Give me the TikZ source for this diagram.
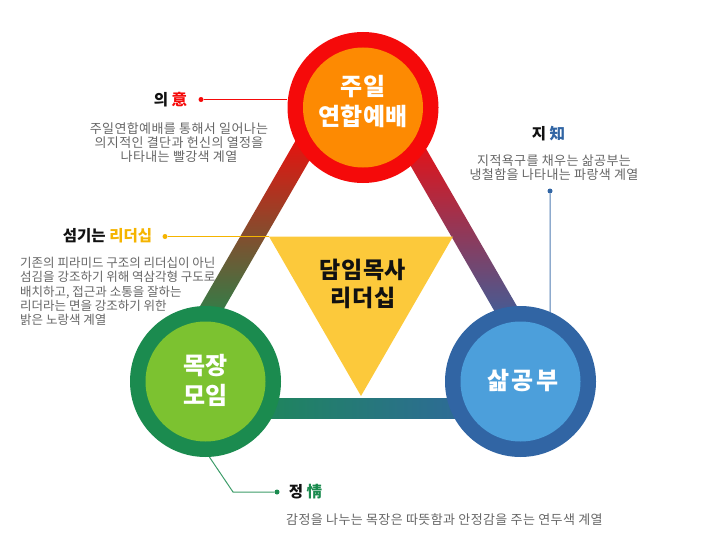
\documentclass[tikz,border=0pt]{standalone}
\usepackage{fontspec}
\setmainfont{Noto Sans CJK KR}
\definecolor{cred}{HTML}{F50A0A}
\definecolor{corange}{HTML}{FD8A02}
\definecolor{cgreen}{HTML}{1B8B4F}
\definecolor{clime}{HTML}{7CC230}
\definecolor{cblue}{HTML}{3165A4}
\definecolor{csky}{HTML}{4C9FDB}
\definecolor{cyellow}{HTML}{FCC93B}
\definecolor{cgold}{HTML}{F5B400}
\definecolor{cgray}{HTML}{666666}
\definecolor{cpurple}{HTML}{8C3468}
\definecolor{cink}{HTML}{111111}
\tikzset{
  ring/.style={circle, minimum size=151pt, inner sep=0pt, draw=none},
  core/.style={circle, minimum size=120pt, inner sep=0pt, draw=none},
  ctext/.style={text=white, font=\bfseries\fontsize{24}{30}\selectfont, align=center, inner sep=0pt},
  lbl/.style={text=cink, font=\bfseries\fontsize{15.5}{18}\selectfont, inner sep=0pt},
  desc/.style={text=cgray, font=\fontsize{13}{14.4}\selectfont\addfontfeatures{LetterSpace=3}, inner sep=0pt},
  descs/.style={text=cgray, font=\fontsize{12.5}{14.3}\selectfont, inner sep=0pt},
  dotm/.style={circle, inner sep=0pt, minimum size=5pt, fill=#1},
  lead/.style={text=cink, font=\bfseries\fontsize{23}{28}\selectfont\addfontfeatures{LetterSpace=2}, align=center, inner sep=0pt}
}
\begin{document}
\begin{tikzpicture}[x=1pt,y=-1pt]
\useasboundingbox (0,0) rectangle (717,543);
% bars of the triangle
\shade[top color=cred, bottom color=cgreen] (208.4,335.5) -- (323.9,135.5) -- (304.9,124.5) -- (189.4,324.5) -- cycle;
\shade[top color=cred, middle color=cpurple, bottom color=cblue] (412.1,124.5) -- (393.1,135.5) -- (508.5,335.5) -- (527.5,324.5) -- cycle;
\shade[left color=cgreen, right color=cblue] (220,398) rectangle (505,418);
% circles
\node[ring, fill=cred] (top) at (363,107.5) {};
\node[core, fill=corange] (topc) at (363,107.5) {};
\node[ctext] (toptx) at (363,102) {주일\\연합예배};
\node[ring, fill=cgreen] (left) at (205.5,381.5) {};
\node[core, fill=clime] (leftc) at (205.5,381.5) {};
\node[ctext] (lefttx) at (205.5,380.5) {목장\\모임};
\node[ring, fill=cblue] (right) at (520.5,381.5) {};
\node[core, fill=csky] (rightc) at (520.5,381.5) {};
\node[ctext, font=\bfseries\fontsize{24}{30}\selectfont\addfontfeatures{LetterSpace=9}] (righttx) at (523,380.5) {삶공부};
% central triangle
\coordinate (ty1) at (269,236.5);
\coordinate (ty2) at (453,236.5);
\coordinate (ty3) at (361,396);
\fill[cyellow] (ty1) -- (ty2) -- (ty3) -- cycle;
\node[lead] (leadtx) at (363,284) {담임목사\\리더십};
% connectors
\node[dotm=cred] (d1) at (201,99.5) {};
\draw[cred, line width=1pt] (d1) -- (d1 -| top.west);
\node[dotm=cgold] (d2) at (165,236.5) {};
\draw[cgold, line width=1pt] (d2) -- (ty1);
\node[dotm=cblue] (d3) at (550,191) {};
\draw[cblue!85!white, line width=1pt] (d3) -- (right.67);
\node[dotm=cgreen] (d4) at (277,492) {};
\coordinate (gb) at (233,492);
\draw[cgreen!85!white, line width=1pt] (left.-87) -- (gb) -- (d4);
% labels
\node[lbl] (l1) at (170.5,100) {의 \textcolor{cred}{意}};
\node[desc, align=center] (t1) at (179,142.5) {주일연합예배를 통해서 일어나는\\의지적인 결단과 헌신의 열정을\\나타내는 빨강색 계열};
\node[lbl] (l2) at (107.5,236) {섬기는 \textcolor{cgold}{리더십}};
\node[descs, align=left, anchor=west] (t2) at (20,291.5) {기존의 피라미드 구조의 리더십이 아닌\\섬김을 강조하기 위해 역삼각형 구도로\\배치하고, 접근과 소통을 잘하는\\리더라는 면을 강조하기 위한\\밝은 노랑색 계열};
\node[lbl] (l3) at (548.5,134) {지 \textcolor{cblue}{知}};
\node[desc, align=center] (t3) at (554,167.5) {지적욕구를 채우는 삶공부는\\냉철함을 나타내는 파랑색 계열};
\node[lbl] (l4) at (305.5,492) {정 \textcolor{cgreen}{情}};
\node[desc, anchor=west] (t4) at (286,520) {감정을 나누는 목장은 따뜻함과 안정감을 주는 연두색 계열};
\end{tikzpicture}
\end{document}
